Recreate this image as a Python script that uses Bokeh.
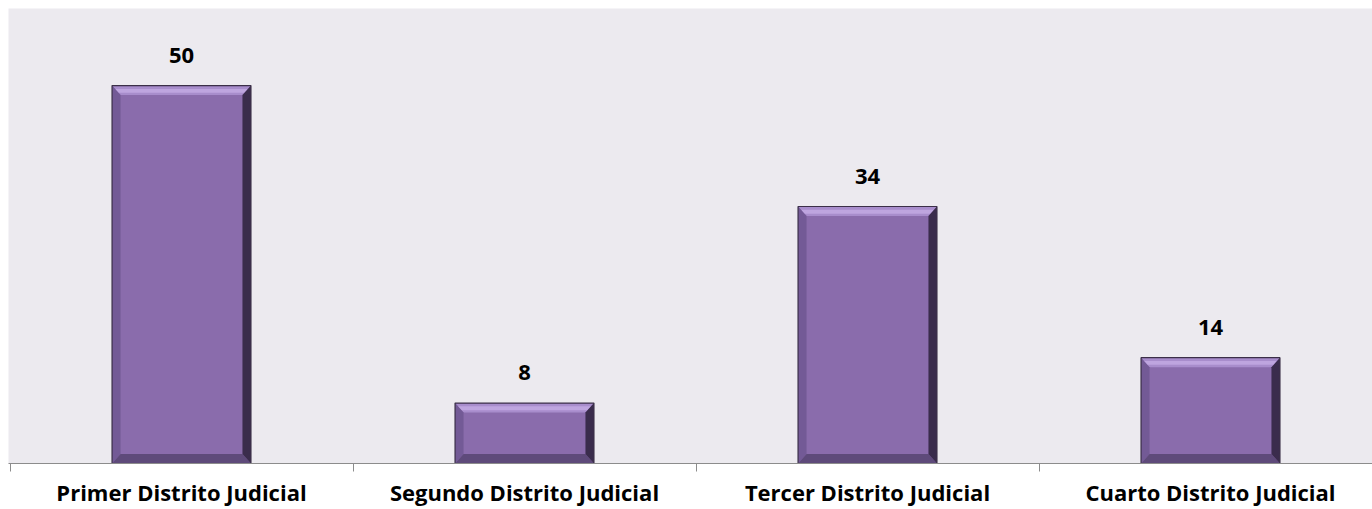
from bokeh.plotting import figure
from bokeh.models import Range1d, FixedTicker
from bokeh.core.properties import value
from bokeh.embed import file_html
from bokeh.resources import INLINE

categories = ["Primer Distrito Judicial", "Segundo Distrito Judicial",
              "Tercer Distrito Judicial", "Cuarto Distrito Judicial"]
values = [50, 8, 34, 14]

PX_X = 343.0   # pixels per category unit
FRAME_W = 1364
FRAME_H = 455
Y_MAX = 60.2
PX_Y = FRAME_H / Y_MAX

x0 = -0.5 - 1.5 / PX_X
p = figure(width=1372, height=509, output_backend="svg", toolbar_location=None,
           x_range=Range1d(x0, x0 + FRAME_W / PX_X), y_range=Range1d(0, Y_MAX),
           min_border_left=8, min_border_right=0, min_border_top=8, min_border_bottom=46)
p.outline_line_color = None
p.background_fill_color = "#ECEAEF"
p.border_fill_color = "white"
p.grid.visible = False
p.yaxis.visible = False

xs = list(range(len(categories)))
half = 0.2025
bx = 8.5 / PX_X
by = 9.5 / PX_Y

face_l, face_r, face_b, face_t = [], [], [], []
top_x, top_y, left_x, left_y, right_x, right_y, bot_x, bot_y = [], [], [], [], [], [], [], []
hl_x, hl_y = [], []
for x, v in zip(xs, values):
    l, r, b, t = x - half, x + half, 0, v
    face_l.append(l); face_r.append(r); face_b.append(b); face_t.append(t)
    top_x.append([l, r, r - bx, l + bx]); top_y.append([t, t, t - by, t - by])
    hl_x.append([l + bx * 0.35, r - bx * 0.35, r - bx * 0.75, l + bx * 0.75])
    hl_y.append([t - by * 0.35, t - by * 0.35, t - by * 0.75, t - by * 0.75])
    left_x.append([l, l + bx, l + bx, l]); left_y.append([t, t - by, b + by, b])
    right_x.append([r, r - bx, r - bx, r]); right_y.append([t, t - by, b + by, b])
    bot_x.append([l, l + bx, r - bx, r]); bot_y.append([b, b + by, b + by, b])

p.quad(left=face_l, right=face_r, bottom=face_b, top=face_t,
       fill_color="#8A6CAC", line_color=None)
p.patches(top_x, top_y, fill_color="#A88DCC", line_color=None)
p.patches(hl_x, hl_y, fill_color="#BEA5DF", line_color=None)
p.patches(left_x, left_y, fill_color="#735A96", line_color=None)
p.patches(bot_x, bot_y, fill_color="#5E4A7A", line_color=None)
p.patches(right_x, right_y, fill_color="#3A2C4C", line_color=None)
p.quad(left=face_l, right=face_r, bottom=face_b, top=face_t,
       fill_color=None, line_color="#3B2F48", line_width=1.2)

p.text(x=xs, y=values, text=[str(v) for v in values], text_align="center",
       text_baseline="alphabetic", y_offset=-30.5, text_font=value("Open Sans"),
       text_font_style="bold", text_font_size="22px", text_color="black")

boundaries = [i - 0.5 for i in range(len(categories) + 1)]
p.xaxis.ticker = FixedTicker(ticks=xs, minor_ticks=boundaries)
p.xaxis.major_label_overrides = {i: c for i, c in enumerate(categories)}
p.xaxis.major_tick_line_color = None
p.xaxis.major_tick_out = 0
p.xaxis.major_tick_in = 0
p.xaxis.minor_tick_out = 8
p.xaxis.minor_tick_in = 0
p.xaxis.minor_tick_line_color = "#8C8C8C"
p.xaxis.axis_line_color = "#8C8C8C"
p.xaxis.axis_line_width = 1
p.xaxis.major_label_standoff = 5
p.xaxis.major_label_text_font = "Open Sans"
p.xaxis.major_label_text_font_style = "bold"
p.xaxis.major_label_text_font_size = "22px"
p.xaxis.major_label_text_color = "black"

open("out.html", "w").write(file_html(p, INLINE))
